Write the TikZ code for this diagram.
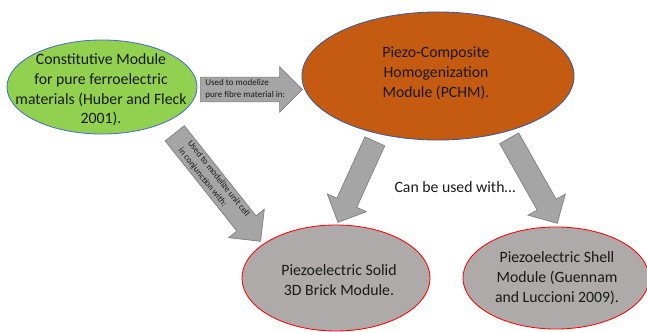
\documentclass[tikz,border=0pt]{standalone}
\usepackage{fontspec}
\setmainfont{Carlito}
\usetikzlibrary{shapes.geometric}
\usetikzlibrary{shapes.arrows}
\definecolor{modgreen}{RGB}{146,208,80}
\definecolor{modorange}{RGB}{197,90,17}
\definecolor{modgray}{RGB}{174,170,170}
\definecolor{modblue}{RGB}{68,114,196}
\definecolor{arrowgray}{RGB}{165,165,165}
\definecolor{arrowline}{RGB}{127,127,127}

\begin{document}
\begin{tikzpicture}
    [x=0.025cm, y=-0.025cm,
    module/.style={ellipse, draw, line width=0.6pt, inner sep=0pt},
    basemod/.style={module, fill=modgreen, draw=modblue},
    homogmod/.style={module, fill=modorange, draw=modblue!80!black},
    piezomod/.style={module, fill=modgray, draw=red},
    modtext/.style={align=center, font=\fontsize{11.2}{14}\selectfont, text=black!90},
    bigarrow/.style={single arrow, fill=arrowgray, draw=arrowline, line width=0.5pt,
        single arrow head extend=7.5pt, anchor=tail, inner xsep=1pt, inner ysep=1.5pt,
        align=left, font=\fontsize{6.4}{8.4}\selectfont, text=black!90},
    emptyarrow/.style={bigarrow, inner ysep=7.5pt}]
    \useasboundingbox (0,0) rectangle (647,331);
    %\draw[step=50,gray,very thin] (0,0) grid (647,331);
    \node[basemod, minimum width=4.75cm, minimum height=2.35cm]  (CM) at (102, 87) {};
    \node[homogmod, minimum width=6.8cm, minimum height=3.2cm]   (PCHM) at (438, 76) {};
    \node[piezomod, minimum width=4.7cm, minimum height=2.65cm]  (SB) at (336, 278) {};
    \node[piezomod, minimum width=4.65cm, minimum height=2.55cm] (SH) at (556, 278) {};
    \node[modtext] (CMtext) at (101, 90) {Constitutive Module\\for pure ferroelectric\\materials (Huber and Fleck\\2001).};
    \node[modtext] (PCHMtext) at (436, 73) {Piezo-Composite\\Homogenization\\Module (PCHM).};
    \node[modtext] (SBtext) at (339, 280) {Piezoelectric Solid\\3D Brick Module.};
    \node[modtext] (SHtext) at (557, 278) {Piezoelectric Shell\\Module (Guennam\\and Luccioni 2009).};
    \node[modtext] (with) at (455, 187) {Can be used with\ldots};
    \node[bigarrow, minimum height=2.55cm] (CMtoPCHM) at (200, 89.5) {Used to modelize\\pure fibre material in:};
    \node[bigarrow, minimum height=3.45cm, rotate=-51.5] (CMtoSB) at (174.5, 133) {Used to modelize unit cell\\in conjunction with:};
    \node[emptyarrow, minimum height=2.225cm, rotate=-114.5] (PCHMtoSB) at (375, 141) {};
    \node[emptyarrow, minimum height=2.44cm, rotate=-60.5] (PCHMtoSH) at (509, 138) {};
\end{tikzpicture}
\end{document}
